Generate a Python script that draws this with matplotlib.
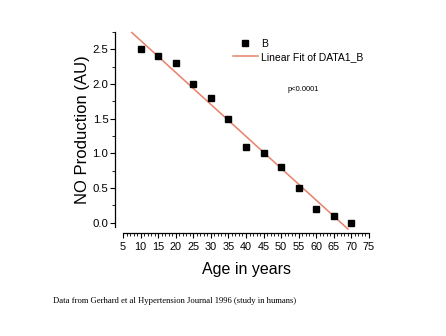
import matplotlib
matplotlib.use('Agg')
import matplotlib.pyplot as plt
from matplotlib.ticker import MultipleLocator
import numpy as np

plt.rcParams['font.family'] = ['Liberation Sans', 'DejaVu Sans']

# NO production measured at each age
age = [10, 15, 20, 25, 30, 35, 40, 45, 50, 55, 60, 65, 70]
no_prod = [2.5, 2.4, 2.3, 2.0, 1.8, 1.5, 1.1, 1.0, 0.8, 0.5, 0.2, 0.1, 0.0]

x_ticks = [5, 10, 15, 20, 25, 30, 35, 40, 45, 50, 55, 60, 65, 70, 75]
y_ticks = [0.0, 0.5, 1.0, 1.5, 2.0, 2.5]

slope, icpt = np.polyfit(age, no_prod, 1)
fit_x = np.array([7.5, 69.0])

fig = plt.figure(figsize=(4.46, 3.36), dpi=100)
ax = fig.add_axes([123 / 446, 1 - 227 / 336, 246 / 446, 195 / 336])

pts, = ax.plot(age, no_prod, 's', color='black', ms=3.8, label='B', zorder=3)
fit, = ax.plot(fit_x, icpt + slope * fit_x, color='#e8806a', lw=1.1,
               clip_on=False, label='Linear Fit of DATA1_B', zorder=2)

ax.set_xlim(5, 75)
ax.set_ylim(-0.06, 2.75)
ax.set_xticks(x_ticks)
ax.set_yticks(y_ticks)
ax.set_yticklabels([f'{v:.1f}' for v in y_ticks])
ax.xaxis.set_minor_locator(MultipleLocator(1))
ax.yaxis.set_minor_locator(MultipleLocator(0.25))

for side in ['top', 'right']:
    ax.spines[side].set_visible(False)
ax.spines['left'].set_position(('outward', 5.5))
ax.spines['bottom'].set_position(('outward', 4.5))
for side in ['left', 'bottom']:
    ax.spines[side].set_linewidth(0.9)

ax.tick_params(which='major', direction='out', length=3.5, width=0.8)
ax.tick_params(which='minor', direction='out', length=2, width=0.6)
ax.tick_params(axis='x', labelsize=7.8, pad=3)
ax.tick_params(axis='y', labelsize=8.2, pad=1.5)

ax.set_xlabel('Age in years', fontsize=11.5, labelpad=7)
ax.set_ylabel('NO Production (AU)', fontsize=12, labelpad=1.5)

ax.legend(handles=[pts, fit], loc='upper left',
          bbox_to_anchor=(233 / 446, 1 - 39 / 336),
          bbox_transform=fig.transFigure, frameon=False, fontsize=7.5,
          handlelength=2.4, handletextpad=0.3, labelspacing=0.3,
          borderpad=0, borderaxespad=0)

fig.text(288 / 446, 1 - 90 / 336, 'p<0.0001', fontsize=5.5, va='center')

fig.text(53 / 446, 1 - 301 / 336,
         'Data from Gerhard et al Hypertension Journal 1996 (study in humans)',
         fontsize=6.2, family=['Liberation Serif'], va='center')

fig.savefig('out.png', dpi=100)
